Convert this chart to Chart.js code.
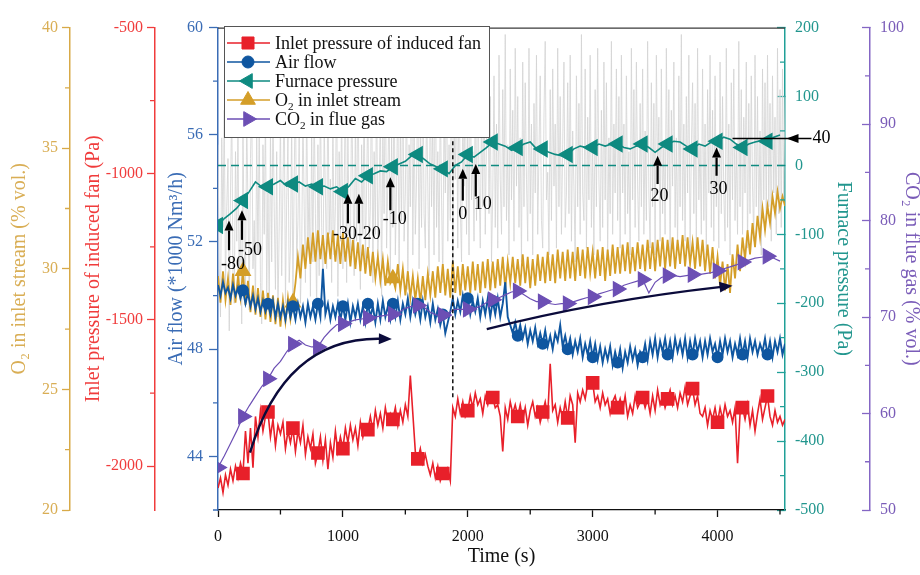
<!DOCTYPE html>
<html>
<head>
<meta charset="utf-8">
<title>Furnace transition</title>
<script src="https://cdn.jsdelivr.net/npm/chart.js@4/dist/chart.umd.min.js"></script>
<style>
html,body{margin:0;padding:0;background:#ffffff;}
#c{display:block;}
</style>
</head>
<body>
<canvas id="c" width="920" height="575"></canvas>
<script>
const SERIF = '"Liberation Serif", "Times New Roman", Times, serif';

// ---------- sampling ----------
const STEP_FINE = 20;    // s, inlet pressure / air flow / O2
const STEP_SMOOTH = 50;  // s, CO2 / furnace pressure (smoothed)
const STEP_RAW = 10;     // s, raw furnace pressure
const X_MAX = 4540;

// ---------- tick labels ----------
const timeTicks = [0, 1000, 2000, 3000, 4000];
const o2Ticks = [20, 25, 30, 35, 40];
const inletTicks = [-2000, -1500, -1000, -500];
const airTicks = [44, 48, 52, 56, 60];
const furnaceTicks = [-500, -400, -300, -200, -100, 0, 100, 200];
const co2Ticks = [50, 60, 70, 80, 90, 100];

// ---------- series ----------
const inletPressure = [
-2075,-2040,-2090,-2030,-2065,-2010,-2050,-2000,-2040,-1990,
-2025,-1880,-1990,-1870,-2005,-1830,-1900,-1810,-1880,-1830,
-1815,-1900,-1840,-1930,-1860,-1890,-1850,-1940,-1880,-1920,
-1870,-1950,-1880,-1920,-1860,-1960,-1900,-1940,-1890,-1990,
-1955,-1900,-1980,-1910,-2010,-1920,-1970,-1880,-1950,-1900,
-1940,-1870,-1920,-1860,-1910,-1870,-1930,-1850,-1900,-1860,
-1875,-1830,-1880,-1810,-1860,-1820,-1870,-1800,-1850,-1820,
-1840,-1800,-1860,-1810,-1850,-1790,-1830,-1690,-1820,-1950,
-1975,-1940,-1990,-1960,-2000,-2030,-1990,-2040,-2000,-2050,
-2025,-2040,-2010,-2050,-1800,-1830,-1770,-1820,-1780,-1830,
-1810,-1760,-1800,-1750,-1790,-1770,-1820,-1760,-1790,-1750,
-1765,-1800,-1790,-1830,-1950,-1800,-1840,-1780,-1820,-1790,
-1830,-1790,-1840,-1800,-1860,-1810,-1780,-1830,-1800,-1850,
-1815,-1780,-1830,-1650,-1810,-1790,-1850,-1800,-1835,-1780,
-1835,-1760,-1790,-1920,-1750,-1780,-1740,-1770,-1720,-1710,
-1715,-1780,-1760,-1800,-1750,-1790,-1770,-1820,-1780,-1760,
-1800,-1770,-1810,-1760,-1830,-1790,-1820,-1760,-1800,-1780,
-1765,-1800,-1770,-1820,-1760,-1810,-1740,-1790,-1760,-1800,
-1770,-1740,-1790,-1760,-1800,-1750,-1780,-1730,-1790,-1760,
-1735,-1790,-1760,-1820,-1830,-1800,-1860,-1810,-1840,-1800,
-1850,-1800,-1840,-1790,-1830,-1810,-1850,-1800,-1990,-1820,
-1800,-1840,-1790,-1860,-1810,-1880,-1820,-1770,-1840,-1800,
-1760,-1830,-1860,-1810,-1850,-1830,-1860,-1840
];
const airFlow = [
50.4,50.0,50.5,50.1,50.3,49.9,50.4,50.0,50.3,49.9,
50.2,49.7,50.1,49.6,50.0,49.5,49.9,49.4,49.8,49.4,
49.7,49.3,49.8,49.2,49.7,49.2,49.6,49.1,49.7,49.2,
49.6,49.1,49.7,49.2,49.6,49.0,49.7,49.2,49.6,49.1,
49.7,49.2,51.0,49.3,49.7,49.1,49.6,49.2,49.7,49.1,
49.6,49.1,49.7,49.0,49.6,49.2,49.7,49.1,49.6,49.0,
49.7,49.2,49.6,49.0,49.7,49.1,49.8,49.2,49.6,49.1,
49.7,49.2,49.8,49.1,49.7,49.3,49.9,49.2,49.8,49.3,
49.7,49.1,49.8,49.2,49.6,49.0,49.7,49.1,49.5,48.9,
49.3,48.6,49.0,49.4,49.9,49.3,49.8,49.4,50.0,49.4,
49.9,49.3,49.8,49.4,49.9,49.2,49.8,49.3,49.9,49.2,
49.8,49.3,49.9,49.2,49.7,50.5,49.2,48.9,48.6,49.0,
48.5,48.9,48.4,48.8,48.2,48.7,48.3,48.8,48.2,48.6,
48.2,48.7,48.1,48.5,48.0,48.6,48.3,48.9,48.1,48.5,
48.0,48.4,47.8,48.3,47.9,48.4,47.7,48.2,47.8,48.3,
47.7,48.2,47.6,48.1,47.5,48.0,47.6,48.1,47.4,47.9,
47.5,48.0,47.3,47.9,47.5,48.1,47.6,48.0,47.4,47.9,
47.7,48.2,47.6,48.3,47.8,48.4,47.7,48.3,47.9,48.4,
47.8,48.3,47.7,48.4,47.9,48.3,47.8,48.4,47.7,48.3,
47.8,48.4,47.9,48.3,47.7,48.3,47.8,48.4,47.9,48.2,
47.7,48.3,47.8,48.4,47.9,48.3,47.7,48.2,47.8,48.4,
47.8,48.3,47.7,48.4,47.9,48.3,47.8,48.2,47.9,48.4,
47.8,48.3,47.7,48.3,47.9,48.4,47.8,48.2
];
const o2Inlet = [
29.7,28.6,29.9,28.7,29.6,28.5,29.8,28.6,29.7,28.8,
29.9,28.5,29.5,28.2,29.3,28.1,29.2,28.0,29.1,27.9,
29.0,27.8,28.9,27.7,28.8,27.6,28.7,27.8,28.8,27.9,
28.6,29.4,30.5,29.6,31.0,30.0,31.3,30.2,31.5,30.3,
31.6,30.4,31.4,30.2,31.5,30.4,31.6,30.3,31.4,30.2,
31.5,30.3,31.3,30.1,31.2,30.0,31.1,29.9,31.0,29.8,
30.9,29.7,30.7,29.6,30.5,29.5,30.4,29.3,30.3,29.4,
29.6,29.2,30.2,29.1,30.0,28.9,29.9,28.8,29.7,28.7,
29.6,28.6,29.7,28.7,29.8,28.9,29.9,28.8,30.1,29.0,
30.2,28.9,30.0,28.8,30.3,29.0,30.1,28.9,30.2,29.1,
30.1,29.0,30.3,29.1,30.2,29.0,30.3,29.2,30.4,29.1,
30.3,29.2,30.4,29.3,30.5,29.2,30.3,29.4,30.5,29.4,
30.4,29.3,30.6,29.4,30.5,29.2,30.4,29.3,30.6,29.5,
30.5,29.4,30.7,29.5,30.6,29.4,30.8,29.6,30.7,29.5,
30.8,29.6,30.7,29.5,30.9,29.7,30.8,29.6,30.9,29.8,
30.7,29.6,30.8,29.7,30.9,29.5,30.8,29.7,31.0,29.8,
30.9,29.8,31.0,29.9,31.1,29.8,30.9,29.9,31.1,30.0,
31.0,29.9,31.2,30.0,31.1,29.9,31.2,30.1,31.3,30.0,
31.2,30.1,31.3,30.0,31.2,30.2,31.4,30.1,31.3,30.2,
31.1,30.0,31.3,30.1,31.2,29.9,31.0,29.8,30.9,29.6,
30.5,29.3,30.3,29.1,30.2,29.0,30.6,29.6,31.0,29.9,
31.3,30.4,31.6,30.6,31.9,30.9,32.2,31.3,32.5,31.6,
32.6,31.9,33.0,32.3,33.2,32.5,33.0,32.6
];
const co2Flue = [
54.4,55.6,56.9,58.2,59.7,60.8,61.8,62.8,63.6,64.7,
65.4,66.4,67.2,67.6,67.1,66.9,66.9,67.9,68.6,69.2,
69.3,69.5,69.7,69.8,69.9,70.0,70.1,70.2,70.3,70.5,
70.9,71.1,71.2,71.0,70.5,70.2,70.2,70.5,70.8,70.8,
70.8,70.9,71.1,71.5,71.8,72.0,72.3,72.6,72.7,72.3,
71.9,71.6,71.6,71.4,71.3,71.4,71.4,71.6,71.8,72.0,
72.1,72.4,72.6,72.8,72.9,73.3,73.5,73.7,73.9,72.5,
73.6,74.1,74.3,74.3,74.2,74.3,74.4,74.4,74.5,74.6,
74.8,75.0,75.2,75.4,75.7,75.9,76.1,76.2,76.3,76.1,
75.8
];
const furnacePressure = [
-87,-77,-70,-62,-51,-38,-24,-31,-31,-27,
-22,-30,-27,-24,-30,-27,-31,-30,-34,-31,
-38,-30,-19,-24,-15,-12,-8,-9,-2,2,
6,14,16,9,2,-2,-5,-12,0,5,
16,12,19,26,34,31,28,22,26,31,
34,24,24,19,16,14,16,24,28,26,
26,31,28,31,31,26,24,28,31,26,
19,26,31,35,34,28,24,31,28,34,
35,41,38,31,26,31,34,36,35,41,
44
];
const furnaceRaw = [
30,-150,-220,40,-90,80,-180,-60,10,-240,-40,90,-160,-200,20,-110,60,-190,-70,-230,
50,-120,-180,70,-60,-210,10,100,-150,-80,-200,40,-130,60,-170,-230,30,-100,80,-190,
-40,-210,50,-140,90,-60,-180,20,-220,-90,70,-160,-30,110,-200,-50,40,-170,-120,60,
-190,-20,120,-150,-80,40,-200,-130,80,-60,-170,100,-110,-30,-190,50,-140,90,-70,-210,
30,-160,110,-90,-180,60,-40,-150,130,-100,-20,-170,80,-130,-60,140,-190,20,-110,90,
-150,-40,120,-170,50,-90,-130,100,-20,-160,70,-110,140,-60,-180,30,-100,110,-140,-30,
90,-120,-60,150,-170,20,-100,130,-140,-40,80,-190,60,-70,160,-120,-20,100,-160,40,
-90,140,-130,-30,110,-170,60,-80,150,-110,-40,120,-180,30,-60,170,-130,80,-100,-20,
130,-150,50,-90,160,-70,-120,100,-30,-160,140,-60,70,-130,180,-90,20,-140,110,-50,
-170,90,-40,150,-110,30,-80,170,-150,60,-20,130,-120,190,-60,-140,80,-30,160,-100,
70,-130,150,-50,20,-110,120,-80,170,-30,-120,90,-60,140,-100,40,180,-70,100,-140,
-40,130,-90,60,-120,160,-20,-100,110,-60,190,-80,30,-130,140,-50,80,-110,170,-30,
100,-90,40,-140,150,-60,120,-20,-110,170,-70,60,-130,90,-40,160,-100,20,130,-80,
-120,70,180,-50,-10,-130,110,-80,140,-30,60,-120,170,-60,100,-100,30,150,-90,-40,
120,-70,160,-110,50,-30,-140,130,-60,90,-100,190,-40,-80,140,-120,70,-50,160,-90,
30,-130,110,-60,170,-20,-110,80,-90,150,-50,120,-130,40,-70,180,-100,60,-40,140,
-80,100,-120,160,-40,60,-100,130,-70,20,-130,170,-50,110,-90,150,-30,-110,90,-60,
140,-100,50,-80,180,-40,-120,120,-60,90,-130,160,-20,70,-110,140,-70,30,-100,170,
-50,110,-140,80,-30,150,-90,40,-120,130,-60,190,-80,60,-110,100,-40,160,-130,20,
120,-70,90,-120,170,-50,30,-100,140,-80,60,-130,110,-40,160,-90,80,-110,130,-60,
40,-120,150,-70,100,-40,-110,170,-90,60,-130,120,-50,140,-80,30,-100,180,-60,110,
-100,70,-40,150,-120,90,-70,130,-30,-110,160,-60,100,-90,50,-130,140,-50,120,-80,
160,-60,90,-110,130,-40,70,-100,170,-70,110,-90,140,-50,100
];

// ---------- annotations (data units) ----------
const setpointArrowT    = [88, 192, 1040, 1128, 1380, 1960, 2064, 3520, 3992];
const setpointArrowTip  = [-80, -65, -41, -41, -17, -5, 2, 14, 26];
const setpointArrowTail = [-123, -108, -84, -84, -65, -51, -45, -27, -15];
const setpointLabels = ['-80', '-50', '-30-20', '-10', '0', '10', '20', '30', '40'];
const setpointLabelT = [120, 256, 1112, 1416, 1960, 2120, 3536, 4008, 4832];
const setpointLabelV = [-144, -123, -100, -78, -71, -57, -45, -35, 39];
const lastSetpointLine = [4120, 4752];
const lastSetpointTip = 4552;
const lastSetpointValue = 39;
const switchTime = 1880;
const switchRange = [35, -338];
const trendA = { t: [256, 536, 1392], v: [44.14, 48.45, 48.38] };
const trendB = { t: [2152, 3056, 4120], v: [48.75, 49.82, 50.37] };

// ---------- colours ----------
const RED = '#e8202a', BLUE = '#0f56a0', TEAL = '#0e8a80', GOLD = '#d49e28', PURPLE = '#6c4fb4', GRAY = '#d3d3d3', NAVY = '#0b0b3b';
const RED_AX = '#f03c3c', BLUE_AX = '#3a6cb5', TEAL_AX = '#20a098', GOLD_AX = '#d8aa48', PURPLE_AX = '#8466c4';

const toXY = (vals, step) => vals.map((v, i) => ({ x: i * step, y: v }));

const everyTen = i => i > 0 && i % 10 === 0;
const goldMarkIdx = [10, 30, 70];
const smoothMarks = i => i % 4 === 0;

const datasets = [
  { label: 'Furnace pressure (raw)', data: toXY(furnaceRaw, STEP_RAW), yAxisID: 'yFurn',
    borderColor: GRAY, borderWidth: 0.8, pointRadius: 0, order: 6 },
  { label: 'O₂ in inlet stream', data: toXY(o2Inlet, STEP_FINE), yAxisID: 'yO2',
    borderColor: GOLD, backgroundColor: GOLD, borderWidth: 1.8, order: 5,
    pointStyle: 'triangle', pointRotation: 0,
    pointRadius: c => goldMarkIdx.includes(c.dataIndex) ? 8 : 0 },
  { label: 'Air flow', data: toXY(airFlow, STEP_FINE), yAxisID: 'yAir',
    borderColor: BLUE, backgroundColor: BLUE, borderWidth: 1.9, order: 4,
    pointStyle: 'circle', pointRadius: c => everyTen(c.dataIndex) ? 5 : 0 },
  { label: 'Inlet pressure of induced fan', data: toXY(inletPressure, STEP_FINE), yAxisID: 'yP',
    borderColor: RED, backgroundColor: RED, borderWidth: 1.6, order: 3,
    pointStyle: 'rect', pointRadius: c => everyTen(c.dataIndex) ? 8.5 : 0 },
  { label: 'CO₂ in flue gas', data: toXY(co2Flue, STEP_SMOOTH), yAxisID: 'yCO2',
    borderColor: PURPLE, backgroundColor: PURPLE, borderWidth: 1.2, order: 2,
    pointStyle: 'triangle', pointRotation: 90, pointRadius: c => smoothMarks(c.dataIndex) ? 8.5 : 0 },
  { label: 'Furnace pressure', data: toXY(furnacePressure, STEP_SMOOTH), yAxisID: 'yFurn',
    borderColor: TEAL, backgroundColor: TEAL, borderWidth: 1.6, order: 1,
    pointStyle: 'triangle', pointRotation: -90, pointRadius: c => smoothMarks(c.dataIndex) ? 8.5 : 0 }
];

const legendLabels = ['Inlet pressure of induced fan', 'Air flow', 'Furnace pressure', 'O₂ in inlet stream', 'CO₂ in flue gas'];
const legendStyles = [
  { color: RED, style: 'rect', r: 8.5, rot: 0 },
  { color: BLUE, style: 'circle', r: 6, rot: 0 },
  { color: TEAL, style: 'triangle', r: 8.5, rot: -90 },
  { color: GOLD, style: 'triangle', r: 8.5, rot: 0 },
  { color: PURPLE, style: 'triangle', r: 8.5, rot: 90 }
];

function marker(ctx, style, x, y, r, rot, color) {
  ctx.save();
  ctx.fillStyle = color; ctx.strokeStyle = color; ctx.lineWidth = 1;
  ctx.beginPath();
  if (style === 'rect') { const s = r * Math.SQRT1_2; ctx.rect(x - s, y - s, 2 * s, 2 * s); }
  else if (style === 'circle') { ctx.arc(x, y, r, 0, Math.PI * 2); }
  else {
    let a = rot * Math.PI / 180;
    ctx.moveTo(x + Math.sin(a) * r, y - Math.cos(a) * r);
    a += 2 * Math.PI / 3; ctx.lineTo(x + Math.sin(a) * r, y - Math.cos(a) * r);
    a += 2 * Math.PI / 3; ctx.lineTo(x + Math.sin(a) * r, y - Math.cos(a) * r);
    ctx.closePath();
  }
  ctx.fill(); ctx.stroke();
  ctx.restore();
}

function subText(ctx, text, x, y, size) {
  const parts = text.split('₂');
  let cx = x;
  parts.forEach((p, i) => {
    if (i > 0) {
      ctx.font = (size * 0.62).toFixed(1) + 'px ' + SERIF;
      ctx.fillText('2', cx, y + size * 0.32);
      cx += ctx.measureText('2').width;
    }
    ctx.font = size + 'px ' + SERIF;
    ctx.fillText(p, cx, y);
    cx += ctx.measureText(p).width;
  });
}

function arrow(ctx, x1, y1, x2, y2, head, halfW) {
  const ang = Math.atan2(y2 - y1, x2 - x1);
  const bx = x2 - Math.cos(ang) * head, by = y2 - Math.sin(ang) * head;
  ctx.beginPath(); ctx.moveTo(x1, y1); ctx.lineTo(bx, by); ctx.stroke();
  ctx.beginPath(); ctx.moveTo(x2, y2);
  ctx.lineTo(bx + Math.sin(ang) * halfW, by - Math.cos(ang) * halfW);
  ctx.lineTo(bx - Math.sin(ang) * halfW, by + Math.cos(ang) * halfW);
  ctx.closePath(); ctx.fill();
}

function curveArrow(ctx, X, Y, c) {
  const p0 = [X.getPixelForValue(c.t[0]), Y.getPixelForValue(c.v[0])];
  const pc = [X.getPixelForValue(c.t[1]), Y.getPixelForValue(c.v[1])];
  const p1 = [X.getPixelForValue(c.t[2]), Y.getPixelForValue(c.v[2])];
  const ang = Math.atan2(p1[1] - pc[1], p1[0] - pc[0]);
  const head = 13, hw = 5.5;
  const bx = p1[0] - Math.cos(ang) * head, by = p1[1] - Math.sin(ang) * head;
  ctx.beginPath(); ctx.moveTo(p0[0], p0[1]); ctx.quadraticCurveTo(pc[0], pc[1], bx + Math.cos(ang) * 2, by + Math.sin(ang) * 2); ctx.stroke();
  ctx.beginPath(); ctx.moveTo(p1[0], p1[1]);
  ctx.lineTo(bx + Math.sin(ang) * hw, by - Math.cos(ang) * hw);
  ctx.lineTo(bx - Math.sin(ang) * hw, by + Math.cos(ang) * hw);
  ctx.closePath(); ctx.fill();
}

const guidePlugin = {
  id: 'guides',
  afterDatasetDraw(chart, args) {
    if (args.index !== 0) return;
    const { ctx, chartArea } = chart;
    const F = chart.scales.yFurn;
    ctx.save();
    ctx.setLineDash([8, 5]); ctx.strokeStyle = TEAL; ctx.lineWidth = 1.5;
    const y0 = F.getPixelForValue(0);
    ctx.beginPath(); ctx.moveTo(chartArea.left, y0); ctx.lineTo(chartArea.right, y0); ctx.stroke();
    ctx.restore();
  },
  afterDatasetsDraw(chart) {
    const { ctx, chartArea } = chart;
    const X = chart.scales.x, F = chart.scales.yFurn, A = chart.scales.yAir;
    ctx.save();
    ctx.strokeStyle = '#3a3a3a'; ctx.lineWidth = 1.3;
    ctx.beginPath(); ctx.moveTo(chartArea.left, chartArea.top + 0.5); ctx.lineTo(chartArea.right, chartArea.top + 0.5); ctx.stroke();
    ctx.setLineDash([4, 3]); ctx.strokeStyle = '#111'; ctx.lineWidth = 1.5;
    const xs = X.getPixelForValue(switchTime);
    ctx.beginPath(); ctx.moveTo(xs, F.getPixelForValue(switchRange[0])); ctx.lineTo(xs, F.getPixelForValue(switchRange[1])); ctx.stroke();
    ctx.setLineDash([]);
    ctx.strokeStyle = '#000'; ctx.fillStyle = '#000'; ctx.lineWidth = 2.2;
    setpointArrowT.forEach((t, i) => {
      const x = X.getPixelForValue(t);
      arrow(ctx, x, F.getPixelForValue(setpointArrowTail[i]), x, F.getPixelForValue(setpointArrowTip[i]), 10, 4.5);
    });
    const yl = F.getPixelForValue(lastSetpointValue);
    ctx.lineWidth = 1.6;
    ctx.beginPath(); ctx.moveTo(X.getPixelForValue(lastSetpointLine[0]), yl); ctx.lineTo(X.getPixelForValue(lastSetpointLine[1]), yl); ctx.stroke();
    const xt = X.getPixelForValue(lastSetpointTip);
    ctx.beginPath(); ctx.moveTo(xt, yl); ctx.lineTo(xt + 12, yl - 4.5); ctx.lineTo(xt + 12, yl + 4.5); ctx.closePath(); ctx.fill();
    ctx.font = '18px ' + SERIF; ctx.textAlign = 'center'; ctx.textBaseline = 'middle';
    setpointLabels.forEach((s, i) => {
      ctx.fillText(s, X.getPixelForValue(setpointLabelT[i]), F.getPixelForValue(setpointLabelV[i]));
    });
    ctx.strokeStyle = NAVY; ctx.fillStyle = NAVY; ctx.lineWidth = 2.4;
    curveArrow(ctx, X, A, trendA);
    curveArrow(ctx, X, A, trendB);
    // legend
    const lx = 224, ly = 26, lw = 265, lh = 111;
    ctx.fillStyle = '#fff'; ctx.fillRect(lx, ly, lw, lh);
    ctx.strokeStyle = '#555'; ctx.lineWidth = 1; ctx.strokeRect(lx + 0.5, ly + 0.5, lw, lh);
    legendLabels.forEach((lab, i) => {
      const st = legendStyles[i];
      const y = ly + 17 + i * 19;
      ctx.strokeStyle = st.color; ctx.lineWidth = 1.5;
      ctx.beginPath(); ctx.moveTo(lx + 3, y); ctx.lineTo(lx + 46, y); ctx.stroke();
      marker(ctx, st.style, lx + 24, y, st.r, st.rot, st.color);
      ctx.fillStyle = '#111'; ctx.textAlign = 'left'; ctx.textBaseline = 'middle';
      subText(ctx, lab, lx + 51, y + 1, 18);
    });
    ctx.restore();
  }
};

const MINOR = [
  { id: 'x', step: 500, major: 1000, len: 4.5, color: '#111' },
  { id: 'yO2', step: 2.5, major: 5, len: 5, color: GOLD_AX, side: 'left' },
  { id: 'yP', step: 250, major: 500, len: 5, color: RED_AX, side: 'left' },
  { id: 'yAir', step: 2, major: 4, len: 5, color: BLUE_AX, side: 'left' },
  { id: 'yFurn', step: 50, major: 100, len: 5, color: TEAL_AX, side: 'right' },
  { id: 'yCO2', step: 5, major: 10, len: 5, color: PURPLE_AX, side: 'right' }
];
const minorPlugin = {
  id: 'minorTicks',
  afterDraw(chart) {
    const ctx = chart.ctx;
    ctx.save();
    ctx.lineWidth = 1.3;
    MINOR.forEach(m => {
      const s = chart.scales[m.id];
      ctx.strokeStyle = m.color;
      ctx.beginPath();
      for (let v = Math.ceil(s.min / m.step) * m.step; v <= s.max + 1e-9; v += m.step) {
        const r = v / m.major;
        if (Math.abs(r - Math.round(r)) < 1e-6) continue;
        const p = s.getPixelForValue(v);
        if (m.id === 'x') { ctx.moveTo(p, s.top); ctx.lineTo(p, s.top + m.len); }
        else if (m.side === 'left') { ctx.moveTo(s.right, p); ctx.lineTo(s.right - m.len, p); }
        else { ctx.moveTo(s.left, p); ctx.lineTo(s.left - m.len, p); }
      }
      ctx.stroke();
    });
    ctx.restore();
  }
};

const tickFont = { family: SERIF, size: 16 };
const titleFont = { family: SERIF, size: 20, lineHeight: 1 };
const plain = v => String(v);
const fixedTicks = arr => (s => { s.ticks = arr.map(v => ({ value: v })); });

function yScale(o) {
  return {
    type: 'linear', position: o.pos, weight: o.weight, min: o.min, max: o.max,
    afterBuildTicks: fixedTicks(o.ticks),
    ticks: { color: o.tcolor, font: tickFont, padding: o.pad, callback: plain, autoSkip: false },
    grid: { drawOnChartArea: false, tickLength: o.tl, tickColor: o.color, tickWidth: 1.3 },
    border: { color: o.color, width: 1.5 },
    title: { display: true, text: o.title, color: o.tcolor, font: titleFont, padding: { top: o.tpad, bottom: 0 } },
    afterFit: s => { s.width = o.width; }
  };
}

new Chart(document.getElementById('c'), {
  type: 'line',
  data: { datasets },
  options: {
    responsive: false, animation: false, devicePixelRatio: 1, events: [],
    layout: { padding: { left: 0, right: 0, top: 22, bottom: 0 } },
    elements: { line: { tension: 0 }, point: { borderWidth: 1, hoverRadius: 0 } },
    plugins: { legend: { display: false }, tooltip: { enabled: false } },
    scales: {
      x: {
        type: 'linear', position: 'bottom', min: 0, max: X_MAX,
        afterBuildTicks: fixedTicks(timeTicks),
        ticks: { color: '#111', font: tickFont, padding: 10, maxRotation: 0, autoSkip: false, callback: plain },
        grid: { drawOnChartArea: false, tickLength: 7, tickColor: '#111', tickWidth: 1.3 },
        border: { color: '#111', width: 1.3 },
        title: { display: true, text: 'Time (s)', color: '#111', font: titleFont, padding: { top: 0, bottom: 8 } },
        afterFit: s => { s.height = 65; }
      },
      yO2: yScale({ pos: 'left', weight: 2, min: 20, max: 40, ticks: o2Ticks, color: GOLD_AX, tcolor: '#d9ae55', pad: 4, tl: 8, width: 70, tpad: 10, title: 'O₂ in inlet stream (% vol.)' }),
      yP: yScale({ pos: 'left', weight: 1, min: -2150, max: -500, ticks: inletTicks, color: RED_AX, tcolor: '#f03c3c', pad: 4, tl: 8, width: 85, tpad: 14, title: 'Inlet pressure of induced fan (Pa)' }),
      yAir: yScale({ pos: 'left', weight: 0, min: 42, max: 60, ticks: airTicks, color: BLUE_AX, tcolor: '#3a6cb5', pad: 6, tl: 9, width: 63, tpad: 12, title: 'Air flow (*1000 Nm³/h)' }),
      yFurn: yScale({ pos: 'right', weight: 0, min: -500, max: 200, ticks: furnaceTicks, color: TEAL_AX, tcolor: '#22968e', pad: 18, tl: -8, width: 85, tpad: 17, title: 'Furnace pressure (Pa)' }),
      yCO2: yScale({ pos: 'right', weight: 1, min: 50, max: 100, ticks: co2Ticks, color: PURPLE_AX, tcolor: '#7a5cb8', pad: 18, tl: -8, width: 50, tpad: -1, title: 'CO₂ in flue gas (% vol.)' })
    }
  },
  plugins: [guidePlugin, minorPlugin]
});
</script>
</body>
</html>
